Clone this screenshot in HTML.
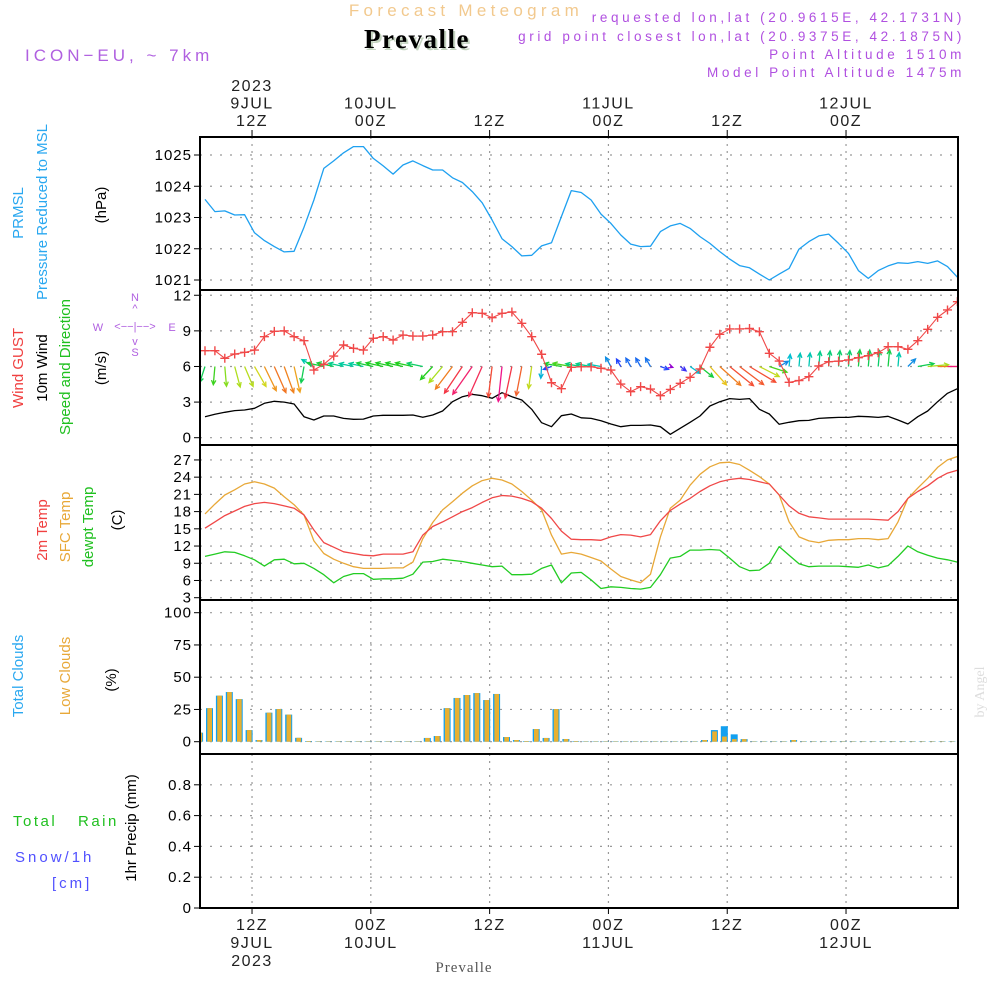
<!DOCTYPE html>
<html><head><meta charset="utf-8"><style>
html,body{margin:0;padding:0;background:#fff;}
svg{display:block;font-family:"Liberation Sans",sans-serif;}
</style></head><body>
<svg id="chart" width="1000" height="1000" viewBox="0 0 1000 1000" xmlns="http://www.w3.org/2000/svg">
<defs><clipPath id="plotclip"><rect x="200" y="137" width="758" height="771"/></clipPath></defs>
<g id="header">
<text x="466" y="16" text-anchor="middle" font-size="17" fill="#f2c98e" letter-spacing="4.3">Forecast Meteogram</text>
<text x="419" y="50" text-anchor="middle" font-size="27" font-weight="bold" font-family="Liberation Serif,serif" fill="#c4d4c0" letter-spacing="1.5">Prevalle</text>
<text x="417" y="48" text-anchor="middle" font-size="27" font-weight="bold" font-family="Liberation Serif,serif" fill="#000" letter-spacing="1.5">Prevalle</text>
<text x="25" y="61" font-size="17" fill="#b060e0" letter-spacing="4">ICON−EU, ~ 7km</text>
<g font-size="13.5" fill="#b050e0" text-anchor="end" letter-spacing="3.6">
<text x="965" y="22">requested lon,lat (20.9615E, 42.1731N)</text>
<text x="965" y="41">grid point closest lon,lat (20.9375E, 42.1875N)</text>
<text x="965" y="59">Point Altitude 1510m</text>
<text x="965" y="77">Model Point Altitude 1475m</text>
</g>
</g>
<g id="leftlabels" font-size="15">
<text transform="translate(23,213) rotate(-90)" text-anchor="middle" fill="#2aa8f0">PRMSL</text>
<text transform="translate(47,212) rotate(-90)" text-anchor="middle" fill="#2aa8f0">Pressure Reduced to MSL</text>
<text transform="translate(106,205) rotate(-90)" text-anchor="middle" fill="#000">(hPa)</text>
<text transform="translate(23,368) rotate(-90)" text-anchor="middle" fill="#f04040">Wind GUST</text>
<text transform="translate(47,368) rotate(-90)" text-anchor="middle" fill="#000">10m Wind</text>
<text transform="translate(70,367) rotate(-90)" text-anchor="middle" fill="#20c020">Speed and Direction</text>
<text transform="translate(106,368) rotate(-90)" text-anchor="middle" fill="#000">(m/s)</text>
<g fill="#b060e0" font-size="11" text-anchor="middle">
<text x="135" y="301">N</text><text x="135" y="312">^</text>
<text x="98" y="331">W</text><text x="135" y="330">&lt;−−|−−&gt;</text><text x="172" y="331">E</text>
<text x="135" y="345">v</text><text x="135" y="356">S</text>
</g>
<text transform="translate(47,530) rotate(-90)" text-anchor="middle" fill="#f04040">2m Temp</text>
<text transform="translate(70,527) rotate(-90)" text-anchor="middle" fill="#e8a838">SFC Temp</text>
<text transform="translate(93,527) rotate(-90)" text-anchor="middle" fill="#20c020">dewpt Temp</text>
<text transform="translate(122,520) rotate(-90)" text-anchor="middle" fill="#000">(C)</text>
<text transform="translate(23,676) rotate(-90)" text-anchor="middle" fill="#2aa8f0">Total Clouds</text>
<text transform="translate(70,676) rotate(-90)" text-anchor="middle" fill="#e8a838">Low Clouds</text>
<text transform="translate(116,680) rotate(-90)" text-anchor="middle" fill="#000">(%)</text>
<text transform="translate(136,828) rotate(-90)" text-anchor="middle" fill="#000">1hr Precip (mm)</text>
<text x="13" y="826" fill="#20c020" letter-spacing="2.5">Total</text>
<text x="78" y="826" fill="#20c020" letter-spacing="2.5">Rain</text>
<text x="15" y="862" fill="#5050ff" letter-spacing="3">Snow/1h</text>
<text x="52" y="888" fill="#5050ff" letter-spacing="3">[cm]</text>
</g>
<text transform="translate(984,692) rotate(-90)" text-anchor="middle" font-size="14" font-family="Liberation Serif,serif" fill="#ddd">by Angel</text>
<text x="464" y="972" text-anchor="middle" font-size="15" font-family="Liberation Serif,serif" fill="#555" letter-spacing="1">Prevalle</text>
<g id="grid"></g>
<g id="marks" clip-path="url(#plotclip)"></g>
<g id="frames"></g>
<g id="labels"></g>
</svg>
<script>
const pressure=[1023.58,1023.19,1023.21,1023.08,1023.09,1022.51,1022.26,1022.07,1021.90,1021.92,
1022.69,1023.56,1024.57,1024.81,1025.07,1025.27,1025.27,1024.89,1024.65,1024.39,
1024.68,1024.81,1024.66,1024.52,1024.52,1024.27,1024.12,1023.83,1023.47,1022.92,
1022.32,1022.07,1021.77,1021.79,1022.09,1022.19,1023.03,1023.86,1023.80,1023.56,
1023.11,1022.81,1022.44,1022.15,1022.07,1022.08,1022.55,1022.73,1022.81,1022.65,
1022.39,1022.17,1021.91,1021.67,1021.46,1021.39,1021.19,1021.00,1021.19,1021.37,
1021.99,1022.23,1022.41,1022.47,1022.17,1021.85,1021.30,1021.05,1021.30,1021.45,
1021.55,1021.53,1021.59,1021.53,1021.61,1021.43,1021.09];
const gust=[7.33,7.33,6.69,7.05,7.19,7.38,8.51,8.96,9.0,8.51,8.17,5.70,6.18,6.88,7.81,7.53,7.38,8.37,8.51,8.23,
8.65,8.56,8.56,8.65,8.93,8.93,9.72,10.53,10.48,10.11,10.48,10.59,9.64,8.51,7.03,4.63,4.13,5.93,5.97,5.97,
5.85,5.70,4.52,3.88,4.30,4.10,3.54,4.07,4.58,5.09,5.79,7.62,8.71,9.16,9.16,9.2,8.93,7.11,6.46,4.67,
4.81,5.14,6.04,6.4,6.45,6.55,6.74,6.91,7.16,7.67,7.67,7.45,8.17,9.13,10.14,10.76,11.46];
const windSpeed=[1.77,1.97,2.14,2.28,2.33,2.48,2.9,3.07,3.0,
2.84,1.77,1.49,1.83,1.83,1.63,1.55,1.57,1.83,1.89,1.89,1.89,1.91,1.72,1.91,2.25,3.03,3.45,3.65,3.54,3.32,3.79,3.45,3.18,2.39,1.26,0.93,1.85,2.0,1.68,1.63,
1.43,1.15,0.93,1.04,1.04,1.07,0.93,0.29,0.79,1.3,1.83,2.67,3.03,3.29,3.23,3.29,2.39,2.0,1.13,1.3,1.43,1.46,1.63,1.68,1.71,1.71,1.8,1.77,1.71,1.8,1.49,1.15,1.77,2.25,3.03,3.74,4.13];
const windToBearing=[198,185,175,165,157,150,154,156,160,167,190,300,
282,282,282,282,282,282,282,282,282,282,282,
223,220,217,214,215,204,187,186,192,191,188,184,250,
280,280,280,280,280,330,330,330,330,330,
110,110,127,125,129,138,132,129,127,121,117,108,60,
5,5,5,5,5,5,5,5,5,5,5,5,45,80,85,90,90,90];
const temp2m=[15.1,16.2,17.3,18.1,18.9,19.4,19.6,19.4,19.0,18.6,17.4,14.8,12.6,11.8,11.0,10.7,10.4,10.3,10.6,10.6,
10.6,11.0,13.9,15.4,16.2,17.1,18.0,18.7,19.6,20.4,20.8,20.7,20.3,19.7,18.6,16.8,14.6,13.2,13.1,13.1,
13.0,13.6,14.0,13.9,13.6,14.0,16.4,18.2,19.3,20.3,21.5,22.5,23.2,23.6,23.8,23.6,23.2,22.8,20.9,19.0,
17.7,17.1,16.9,16.7,16.7,16.7,16.7,16.7,16.6,16.5,18.0,20.3,21.5,22.5,23.8,24.7,25.2];
const tempSfc=[17.6,19.3,20.9,21.8,22.8,23.2,22.8,22.1,20.6,19.2,17.4,12.9,10.7,9.7,9.0,8.4,8.1,8.1,8.1,8.2,
8.2,9.2,13.3,16.1,18.3,19.7,21.2,22.5,23.4,23.8,23.5,22.8,21.5,20.0,18.3,13.9,10.6,10.9,10.6,10.0,
9.4,8.0,6.7,6.1,5.6,7.1,13.6,18.6,20.0,22.6,24.5,25.8,26.5,26.6,26.2,25.2,24.1,22.8,20.9,16.2,
13.6,12.9,12.6,13.0,13.1,13.1,13.3,13.3,13.1,13.3,16.2,20.3,22.1,23.8,25.7,27.0,27.6];
const dewpoint=[10.2,10.6,11.0,10.9,10.3,9.6,8.5,9.6,9.7,8.9,9.0,8.1,7.0,5.6,6.7,7.2,7.2,6.2,6.3,6.3,
6.4,7.1,9.2,9.3,9.7,9.5,9.3,9.0,8.7,8.4,8.5,7.0,7.0,7.1,8.1,8.7,5.6,7.3,7.4,6.1,
4.6,4.9,4.8,4.6,4.5,4.8,7.0,9.9,10.2,11.3,11.3,11.4,11.3,9.9,8.4,7.7,7.8,9.0,11.9,10.4,
8.9,8.4,8.5,8.5,8.5,8.4,8.3,8.7,8.2,8.6,10.2,12.0,11.0,10.4,9.9,9.6,9.2];
// cloud arrays start at hour index -1
const totalClouds=[7,26,35.7,38.5,33,9,1.3,22.5,25.3,21,3,0.5,
0.3,0.3,0.3,0.3,0.3,0.3,0.3,0.3,0.3,0.3,0.3,
2.9,4.4,26,33.9,36.2,37.7,32.3,37,3.6,1.3,0.5,9.8,2.9,25.3,2.1,0.5,
0.3,0.3,0.3,0.3,0.3,0.3,0.3,0.3,0.3,0.3,0.3,0.3,
1.3,9,12,5.7,2,0.3,0.3,0.3,0.3,1.3,
0.3,0.3,0.3,0.3,0.3,0.3,0.3,0.3,0.3,0.3,0.3,0.3,0.3,0.3,0.3,0.3,0.3];
const lowClouds=[7,26,35.7,38.5,33,9,1.3,22.5,25.3,21,3,0.5,
0.3,0.3,0.3,0.3,0.3,0.3,0.3,0.3,0.3,0.3,0.3,
2.9,4.4,26,33.9,36.2,37.7,32.3,37,3.6,1.3,0.5,9.8,2.9,25.3,2.1,0.5,
0.3,0.3,0.3,0.3,0.3,0.3,0.3,0.3,0.3,0.3,0.3,0.3,
1.3,8,4,2,2,0.3,0.3,0.3,0.3,1.3,
0.3,0.3,0.3,0.3,0.3,0.3,0.3,0.3,0.3,0.3,0.3,0.3,0.3,0.3,0.3,0.3,0.3];
const precip=new Array(77).fill(0);
const timeTickHours=[4.75,16.75,28.75,40.75,52.75,64.75];
const topTickLabels=[["2023","9JUL","12Z"],["10JUL","00Z"],["12Z"],["11JUL","00Z"],["12Z"],["12JUL","00Z"]];
const bottomTickLabels=[["12Z","9JUL","2023"],["00Z","10JUL"],["12Z"],["00Z","11JUL"],["12Z"],["00Z","12JUL"]];
const pressureTicks=[1021,1022,1023,1024,1025];
const windTicks=[0,3,6,9,12];
const tempTicks=[3,6,9,12,15,18,21,24,27];
const cloudTicks=[0,25,50,75,100];
const precipTicks=[0,0.2,0.4,0.6,0.8];

const NS="http://www.w3.org/2000/svg";
const X0=200,X1=958;
function xH(h){return 205+h*9.9;}
function yP(p){return 280-(p-1021)*31.25;}
function yW(v){return 437.7-v*11.87;}
function yT(t){return 597.7-(t-3)*5.74;}
function yC(c){return 741.7-c*1.29;}
function yR(r){return 908-r*154;}
function mk(tag,attrs,parent){const e=document.createElementNS(NS,tag);for(const k in attrs)e.setAttribute(k,attrs[k]);parent.appendChild(e);return e;}
const grid=document.getElementById('grid'),marks=document.getElementById('marks'),frames=document.getElementById('frames'),labels=document.getElementById('labels');
const panels=[[137,290,pressureTicks,yP,v=>String(v),'pressure'],[290,445,windTicks,yW,v=>String(v),'wind'],[445,600,tempTicks,yT,v=>String(v),'temp'],[600,754,cloudTicks,yC,v=>String(v),'cloud'],[754,908,precipTicks,yR,v=>v===0?"0":v.toFixed(1),'precip']];
panels.forEach(pn=>{
  const [t,b,ticks,fy,fmt,nm]=pn;
  timeTickHours.forEach(h=>{
    const l=mk('line',{x1:xH(h),x2:xH(h),y1:t,y2:b,stroke:'#999','stroke-dasharray':'2,5','stroke-width':1.2},grid);
    
    
  });
  ticks.forEach(v=>{
    const y=fy(v);
    const l=mk('line',{x1:X0,x2:X1,y1:y,y2:y,stroke:'#999','stroke-dasharray':'2,8','stroke-width':1.2},grid);
    
    
    const tk=mk('line',{x1:X0-6,x2:X0,y1:y,y2:y,stroke:'#000'},frames);
    
    
    const tx=mk('text',{x:X0-8,y:y+5,'text-anchor':'end','font-size':15,fill:'#000','letter-spacing':'1'},labels);
    tx.textContent=fmt(v);
    
    
  });
  const r=mk('rect',{x:X0,y:t,width:X1-X0,height:b-t,fill:'none',stroke:'#000','stroke-width':2},frames);
  
  
});
timeTickHours.forEach((h,k)=>{
  const x=xH(h);
  const tt=mk('line',{x1:x,x2:x,y1:130,y2:137,stroke:'#000'},frames);
  
  
  const bt=mk('line',{x1:x,x2:x,y1:908,y2:914,stroke:'#000'},frames);
  
  
  const tl=topTickLabels[k];
  tl.forEach((s,j)=>{
    const y=126-(tl.length-1-j)*17.5;
    const e=mk('text',{x:x,y:y,'text-anchor':'middle','font-size':16,fill:'#222','letter-spacing':'1.5'},labels);
    e.textContent=s;
    
    
  });
  bottomTickLabels[k].forEach((s,j)=>{
    const e=mk('text',{x:x,y:930+j*18,'text-anchor':'middle','font-size':16,fill:'#222','letter-spacing':'1.5'},labels);
    e.textContent=s;
    
    
  });
});
function poly(arr,fy,color,name,w){
  const pts=arr.map((v,i)=>xH(i).toFixed(1)+','+fy(v).toFixed(1)).join(' ');
  const p=mk('polyline',{points:pts,fill:'none',stroke:color,'stroke-width':w||1.3,'stroke-linejoin':'round'},marks);
  
  
}
poly(pressure,yP,'#1ea0f0','pressure-line');
totalClouds.forEach((v,k)=>{
  const x=xH(k-1);
  const b=mk('rect',{x:x+1,y:yC(v),width:7,height:yC(0)-yC(v),fill:'#12a0f0'},marks);
  
  
  const lv=lowClouds[k];
  const o=mk('rect',{x:x+2.3,y:yC(lv),width:4.7,height:yC(0)-yC(lv),fill:'#e8b030'},marks);
  
  
});
poly(windSpeed,yW,'#000','wind-speed-line');
const stops=[[0.3,[150,0,210]],[0.9,[40,60,255]],[1.3,[0,190,210]],[1.6,[0,205,150]],[1.9,[30,205,30]],[2.2,[160,225,30]],[2.6,[232,210,30]],[3.0,[240,130,30]],[3.4,[245,60,60]],[3.8,[240,20,140]]];
function spdColor(s){
  if(s<=stops[0][0])return 'rgb('+stops[0][1]+')';
  for(let i=1;i<stops.length;i++){if(s<=stops[i][0]){const a=stops[i-1],b=stops[i],f=(s-a[0])/(b[0]-a[0]);return 'rgb('+a[1].map((c,j)=>Math.round(c+(b[1][j]-c)*f)).join(',')+')';}}
  return 'rgb('+stops[stops.length-1][1]+')';
}
windSpeed.forEach((s,i)=>{
  const x=xH(i),y=yW(6),L=s*9.3,br=windToBearing[i]*Math.PI/180;
  const dx=L*Math.sin(br),dy=-L*Math.cos(br);
  const tx=x+dx,ty=y+dy,c=spdColor(s);
  const ang=Math.atan2(dy,dx),hl=5;
  const d='M'+x.toFixed(1)+','+y.toFixed(1)+'L'+tx.toFixed(1)+','+ty.toFixed(1)+
    'M'+(tx-hl*Math.cos(ang-0.45)).toFixed(1)+','+(ty-hl*Math.sin(ang-0.45)).toFixed(1)+'L'+tx.toFixed(1)+','+ty.toFixed(1)+
    'L'+(tx-hl*Math.cos(ang+0.45)).toFixed(1)+','+(ty-hl*Math.sin(ang+0.45)).toFixed(1);
  const p=mk('path',{d:d,fill:'none',stroke:c,'stroke-width':1.3},marks);
  
  
});
poly(gust,yW,'#f04848','gust-line',1.1);
gust.forEach((v,i)=>{
  const x=xH(i),y=yW(v);
  const p=mk('path',{d:'M'+(x-4.5)+','+y+'h9M'+x+','+(y-4.5)+'v9',stroke:'#f04848','stroke-width':1.4},marks);
  
  
});
poly(tempSfc,yT,'#e8a838','sfc-temp-line');
poly(temp2m,yT,'#f04848','temp-2m-line');
poly(dewpoint,yT,'#22cc22','dewpoint-line');
const pl=precip.map((v,i)=>xH(i).toFixed(1)+','+yR(v).toFixed(1)).join(' ');
const pp=mk('polyline',{points:pl,fill:'none',stroke:'#000','stroke-width':2,'stroke-dasharray':'6,2'},marks);


</script>
</body></html>
